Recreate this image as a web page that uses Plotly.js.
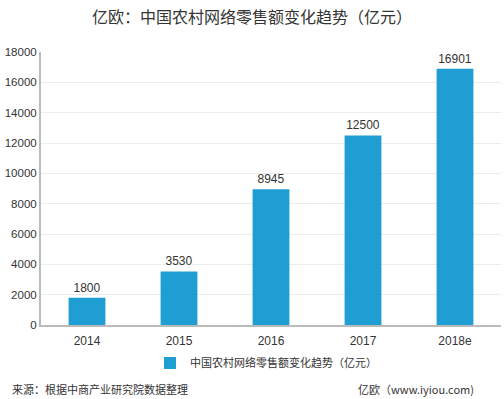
<!DOCTYPE html>
<html><head><meta charset="utf-8">
<script src="https://cdn.plot.ly/plotly-3.0.1.min.js"></script>
<style>body{margin:0;background:#fff}#c{width:504px;height:399px}</style>
</head><body><div id="c"></div>
<script>
const categories = ["2014", "2015", "2016", "2017", "2018e"];
const values = [1800, 3530, 8945, 12500, 16901];
const seriesName = "中国农村网络零售额变化趋势（亿元）";
const yTicks = [0, 2000, 4000, 6000, 8000, 10000, 12000, 14000, 16000, 18000];
const yTickLabels = ["0", "2000", "4000", "6000", "8000", "10000", "12000", "14000", "16000", "18000"];

const font = "'Noto Sans CJK SC', 'Microsoft YaHei', sans-serif";
Plotly.newPlot('c', [{
  type: 'bar', x: categories, y: values, name: seriesName,
  marker: {color: '#1E9ED3'},
  text: values.map(String), textposition: 'outside', cliponaxis: false,
  textfont: {family: 'Liberation Sans, Arial', size: 12, color: '#333'}
}], {
  width: 504, height: 399,
  margin: {l: 41, r: 3, t: 52, b: 74},
  paper_bgcolor: '#fff', plot_bgcolor: '#fff',
  bargap: 0.6,
  title: {text: '亿欧：中国农村网络零售额变化趋势（亿元）', x: 0.5, xanchor: 'center', y: 0.957, yanchor: 'middle',
    font: {family: font, size: 16, color: '#333', weight: 'normal'}},
  xaxis: {type: 'category', showline: true, linecolor: '#bbb', linewidth: 2, ticks: '', showgrid: false,
    ticklabelstandoff: 4,
    tickfont: {family: 'Liberation Sans, Arial', size: 12, color: '#333'}, fixedrange: true},
  yaxis: {range: [0, 18000], tickvals: yTicks, ticktext: yTickLabels, showline: true, linecolor: '#bbb', linewidth: 2,
    gridcolor: '#ececec', zeroline: false, ticks: '', ticklen: 0,
    tickfont: {family: 'Liberation Sans, Arial', size: 11.5, color: '#333'}, fixedrange: true},
  showlegend: true,
  legend: {orientation: 'h', x: (150 - 41) / 460, xanchor: 'left', y: -38/273, yanchor: 'middle',
    font: {family: font, size: 11, color: '#333'}},
  annotations: [
    {text: '来源：根据中商产业研究院数据整理', xref: 'paper', yref: 'paper', x: -31/460, xanchor: 'left', y: -64/273, yanchor: 'middle',
      showarrow: false, font: {family: font, size: 11, color: '#333'}},
    {text: '亿欧（www.iyiou.com)', xref: 'paper', yref: 'paper', x: 476/460 - 41/460, xanchor: 'right', y: -64/273, yanchor: 'middle',
      showarrow: false, font: {family: font, size: 11, color: '#333'}}
  ]
}, {displayModeBar: false, staticPlot: true});
</script></body></html>
